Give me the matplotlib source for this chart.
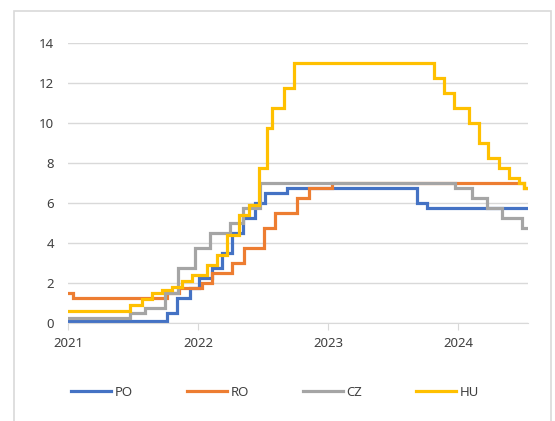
import matplotlib
matplotlib.use("Agg")
import matplotlib.pyplot as plt
import matplotlib.dates as mdates
from matplotlib.patches import Rectangle
import pandas as pd

plt.rcParams['font.family'] = ['Noto Sans', 'DejaVu Sans']

end_date = "2024-07-15"

# policy rate decisions (date the new level starts, level in %)
po_dates = ["2021-01-01", "2021-10-07", "2021-11-04", "2021-12-09", "2022-01-05", "2022-02-09",
            "2022-03-09", "2022-04-07", "2022-05-06", "2022-06-09", "2022-07-08", "2022-09-08",
            "2023-09-07", "2023-10-05"]
po_rates = [0.1, 0.5, 1.25, 1.75, 2.25, 2.75, 3.5, 4.5, 5.25, 6.0, 6.5, 6.75, 6.0, 5.75]

ro_dates = ["2021-01-01", "2021-01-15", "2021-10-06", "2021-11-09", "2022-01-11", "2022-02-09",
            "2022-04-06", "2022-05-11", "2022-07-06", "2022-08-05", "2022-10-06", "2022-11-09",
            "2023-01-11", "2024-07-05"]
ro_rates = [1.5, 1.25, 1.5, 1.75, 2.0, 2.5, 3.0, 3.75, 4.75, 5.5, 6.25, 6.75, 7.0, 6.75]

cz_dates = ["2021-01-01", "2021-06-24", "2021-08-06", "2021-10-01", "2021-11-05", "2021-12-24",
            "2022-02-04", "2022-04-01", "2022-05-06", "2022-06-23", "2023-12-22", "2024-02-09",
            "2024-03-21", "2024-05-03", "2024-06-28"]
cz_rates = [0.25, 0.5, 0.75, 1.5, 2.75, 3.75, 4.5, 5.0, 5.75, 7.0, 6.75, 6.25, 5.75, 5.25, 4.75]

hu_dates = ["2021-01-01", "2021-06-23", "2021-07-28", "2021-08-25", "2021-09-22", "2021-10-20",
            "2021-11-17", "2021-12-15", "2022-01-26", "2022-02-23", "2022-03-23", "2022-04-27",
            "2022-05-25", "2022-06-22", "2022-07-13", "2022-07-27", "2022-08-31", "2022-09-28",
            "2023-10-25", "2023-11-22", "2023-12-20", "2024-01-31", "2024-02-28", "2024-03-26",
            "2024-04-24", "2024-05-22", "2024-06-19", "2024-07-05"]
hu_rates = [0.6, 0.9, 1.2, 1.5, 1.65, 1.8, 2.1, 2.4, 2.9, 3.4, 4.4, 5.4, 5.9, 7.75, 9.75,
            10.75, 11.75, 13.0, 12.25, 11.5, 10.75, 10.0, 9.0, 8.25, 7.75, 7.25, 7.0, 6.75]

series = [("PO", po_dates, po_rates, "#4472C4"),
          ("RO", ro_dates, ro_rates, "#ED7D31"),
          ("CZ", cz_dates, cz_rates, "#A5A5A5"),
          ("HU", hu_dates, hu_rates, "#FFC000")]

fig = plt.figure(figsize=(5.55, 4.21), dpi=100)
ax = fig.add_axes([68/555, 1 - 322.7/421, 460/555, 279.4/421])

for name, d, r, c in series:
    x = list(pd.to_datetime(d)) + [pd.Timestamp(end_date)]
    y = list(r) + [r[-1]]
    ax.step(x, y, where="post", color=c, lw=2.3, label=name, solid_joinstyle="miter")

ax.set_xlim(pd.Timestamp("2021-01-01"), pd.Timestamp(end_date))
ax.set_ylim(0, 14)
ax.set_yticks(range(0, 15, 2))
ax.xaxis.set_major_locator(mdates.YearLocator())
ax.xaxis.set_major_formatter(mdates.DateFormatter("%Y"))

ax.grid(axis="y", color="#D9D9D9", lw=1)
ax.set_axisbelow(True)
for s in ["top", "right", "left"]:
    ax.spines[s].set_visible(False)
ax.spines["bottom"].set_color("#D9D9D9")
ax.tick_params(axis="y", length=0, labelsize=9.5, labelcolor="#404040", pad=10)
ax.tick_params(axis="x", length=5, color="#D9D9D9", labelsize=9.5, labelcolor="#404040", pad=5)

fig.legend(loc="center", bbox_to_anchor=(0.496, 1 - 392/421), ncol=4, frameon=False,
           fontsize=9.5, handlelength=3.0, columnspacing=4.1, handletextpad=0.3,
           labelcolor="#404040")

# light outer frame of the chart box
fig.patches.append(Rectangle((14/555, -0.05), 537/555, 1.05 - 11/421, transform=fig.transFigure,
                             fill=False, edgecolor="#D9D9D9", lw=1.2))

fig.savefig("out.png", dpi=100)
